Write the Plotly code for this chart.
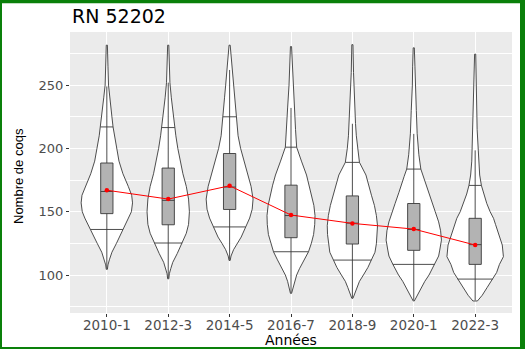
import numpy as np
import plotly.graph_objects as go

# Données
annees = ["2010-1", "2012-3", "2014-5", "2016-7", "2018-9", "2020-1", "2022-3"]
moyennes = [167, 160, 170.5, 147.4, 140.8, 136.3, 123.7]

q1 = [148.5, 139.7, 151.8, 129.5, 124.5, 119.5, 108.4]
mediane = [166, 159, 169.5, 147, 141, 136, 124]
q3 = [188.5, 184.5, 196, 171, 162.5, 156.5, 144.8]
moustache_bas = [105, 97.5, 112, 86, 82, 80, 80]
moustache_haut = [249, 252, 262, 232, 219.5, 211.5, 198.5]

quantile_10 = [136, 125.3, 138, 118.4, 111.8, 108.4, 96.8]
quantile_90 = [217, 216.5, 225, 201, 189, 183.7, 170.8]

# profils de densité (relatifs, max = 1) : niveaux en nombre de coqs
niveaux_2010 = [104.5, 108, 112, 118, 125, 136, 145, 150, 157, 163, 170, 180, 190, 200, 210, 217, 225, 240, 250, 265, 281.6]
densite_2010 = [0.02, 0.04, 0.09, 0.18, 0.34, 0.57, 0.78, 0.87, 0.91, 0.88, 0.76, 0.57, 0.43, 0.35, 0.27, 0.22, 0.18, 0.11, 0.06, 0.04, 0.02]
niveaux_2012 = [97, 101, 105, 110, 117, 125, 133, 140, 150, 160, 170, 180, 190, 200, 210, 217, 225, 240, 252, 265, 281.6]
densite_2012 = [0.02, 0.04, 0.09, 0.16, 0.32, 0.49, 0.64, 0.72, 0.75, 0.72, 0.64, 0.52, 0.42, 0.34, 0.27, 0.23, 0.18, 0.11, 0.06, 0.04, 0.02]
niveaux_2014 = [111.5, 115, 120, 125, 130, 138, 145, 152, 160, 170, 180, 190, 200, 210, 225, 240, 250, 262, 272, 281.6]
densite_2014 = [0.02, 0.05, 0.14, 0.27, 0.41, 0.57, 0.71, 0.80, 0.83, 0.76, 0.64, 0.51, 0.39, 0.30, 0.24, 0.18, 0.14, 0.10, 0.05, 0.02]
niveaux_2016 = [85.5, 90, 95, 100, 105, 112, 118.4, 125, 132, 140, 147, 155, 163, 171, 179, 190, 201, 215, 232, 250, 265, 280.5]
densite_2016 = [0.02, 0.07, 0.12, 0.20, 0.30, 0.48, 0.62, 0.72, 0.80, 0.84, 0.85, 0.81, 0.73, 0.65, 0.55, 0.37, 0.20, 0.16, 0.12, 0.07, 0.04, 0.02]
niveaux_2018 = [81.6, 86, 90, 95, 100, 106, 111.8, 118, 124.7, 132, 139, 147, 155, 162.6, 170, 179, 189, 200, 210, 219.7, 240, 260, 282]
densite_2018 = [0.02, 0.09, 0.16, 0.25, 0.39, 0.55, 0.67, 0.80, 0.85, 0.88, 0.89, 0.85, 0.78, 0.68, 0.60, 0.48, 0.25, 0.18, 0.14, 0.11, 0.07, 0.04, 0.02]
niveaux_2020 = [79.5, 84, 89, 95, 100, 108.4, 115, 119.7, 127.6, 135, 142, 150, 156.6, 165, 172, 178, 183.7, 195, 211.6, 230, 250, 265, 279.5]
densite_2020 = [0.02, 0.12, 0.25, 0.39, 0.54, 0.74, 0.88, 0.92, 0.98, 0.95, 0.88, 0.76, 0.66, 0.53, 0.42, 0.34, 0.25, 0.18, 0.12, 0.09, 0.05, 0.04, 0.02]
niveaux_2022 = [79.5, 84, 90, 96.8, 102, 108.4, 114.5, 123.7, 132, 140, 144.8, 150, 156.6, 164, 170.8, 179, 190, 198.7, 215, 235, 255, 274.5]
densite_2022 = [0.08, 0.25, 0.42, 0.62, 0.76, 0.86, 1.00, 0.96, 0.85, 0.72, 0.65, 0.53, 0.41, 0.30, 0.22, 0.16, 0.12, 0.11, 0.07, 0.05, 0.04, 0.02]

profils = [
    (niveaux_2010, densite_2010),
    (niveaux_2012, densite_2012),
    (niveaux_2014, densite_2014),
    (niveaux_2016, densite_2016),
    (niveaux_2018, densite_2018),
    (niveaux_2020, densite_2020),
    (niveaux_2022, densite_2022),
]

DEMI_LARGEUR = 0.46
GRIS_TRAIT = "#3a3a3a"
X_RANGE = [0.4, 7.6]
Y_RANGE = [70, 292]
positions = list(range(1, len(annees) + 1))

fig = go.Figure()

# violons (axe principal)
for pos, (niv, dens) in zip(positions, profils):
    niv = np.array(niv)
    dens = np.array(dens) * DEMI_LARGEUR
    xs = np.concatenate([pos + dens, (pos - dens)[::-1], [pos + dens[0]]])
    ys = np.concatenate([niv, niv[::-1], [niv[0]]])
    fig.add_trace(go.Scatter(x=xs, y=ys, mode="lines", fill="toself",
                             fillcolor="white",
                             line=dict(color=GRIS_TRAIT, width=0.9),
                             hoverinfo="skip", showlegend=False))

# quantiles dessinés dans les violons
qx, qy = [], []
for pos, (niv, dens), qb, qh in zip(positions, profils, quantile_10, quantile_90):
    for q in (qb, qh):
        w = np.interp(q, niv, dens) * DEMI_LARGEUR
        qx += [pos - w, pos + w, None]
        qy += [q, q, None]
fig.add_trace(go.Scatter(x=qx, y=qy, mode="lines",
                         line=dict(color=GRIS_TRAIT, width=0.9),
                         hoverinfo="skip", showlegend=False))

# boîtes à moustaches (axes superposés, pour passer au-dessus des violons)
fig.add_trace(go.Box(x=positions, q1=q1, median=mediane, q3=q3,
                     lowerfence=moustache_bas, upperfence=moustache_haut,
                     orientation="v", width=0.2, whiskerwidth=0,
                     fillcolor="#b3b3b3",
                     line=dict(color=GRIS_TRAIT, width=0.9),
                     boxpoints=False, showlegend=False,
                     xaxis="x2", yaxis="y2"))

# moyennes
fig.add_trace(go.Scatter(x=positions, y=moyennes, mode="lines+markers",
                         line=dict(color="#ff0000", width=1),
                         marker=dict(color="#ff0000", size=4.5),
                         showlegend=False, xaxis="x2", yaxis="y2"))

L, R, T, B = 70, 13, 32, 36
W, H = 525, 349
pw, ph = W - L - R, H - T - B


def px_x(v):
    return (v - L) / pw


def px_y(v):
    return (H - B - v) / ph


vert = "#0a800a"
for x0, x1, y0, y1 in [(0, W, 0, 3.3), (520, W, 0, H), (0, 2, 0, H), (0, W, 347, H)]:
    fig.add_shape(type="rect", xref="paper", yref="paper",
                  x0=px_x(x0), x1=px_x(x1), y0=px_y(y1), y1=px_y(y0),
                  fillcolor=vert, line=dict(width=0), layer="above")

fig.update_layout(
    width=W, height=H,
    margin=dict(l=L, r=R, t=T, b=B),
    paper_bgcolor="white",
    plot_bgcolor="#ebebeb",
    font=dict(family="Liberation Sans, Arial, sans-serif", color="black"),
    title=dict(text="RN 52202", x=72 / W, xref="container", xanchor="left",
               y=1 - 16 / H, yanchor="middle",
               font=dict(family="DejaVu Sans", size=19, color="black")),
    xaxis=dict(range=X_RANGE, tickvals=positions, ticktext=annees,
               showgrid=True, gridcolor="white", gridwidth=1.1,
               zeroline=False, ticks="outside", ticklen=3, tickwidth=1,
               tickcolor="#333333", ticklabelstandoff=-3,
               tickfont=dict(family="DejaVu Sans", size=13.5, color="#4d4d4d")),
    yaxis=dict(range=Y_RANGE, tickvals=[100, 150, 200, 250],
               showgrid=True, gridcolor="white", gridwidth=1.1,
               minor=dict(tickvals=[75, 125, 175, 225, 275], showgrid=True,
                          gridcolor="white", gridwidth=0.5, ticks=""),
               zeroline=False, ticks="outside", ticklen=3, tickwidth=1,
               tickcolor="#333333",
               tickfont=dict(family="DejaVu Sans", size=13, color="#4d4d4d")),
    xaxis2=dict(range=X_RANGE, overlaying="x", visible=False),
    yaxis2=dict(range=Y_RANGE, overlaying="y", visible=False),
    annotations=[
        dict(text="Années", xref="paper", yref="paper", x=0.5, y=px_y(339.5),
             xanchor="center", yanchor="middle", showarrow=False,
             font=dict(family="DejaVu Sans", size=14, color="black")),
        dict(text="Nombre de coqs", xref="paper", yref="paper",
             x=px_x(18.5), y=px_y(176.5), textangle=-90,
             xanchor="center", yanchor="middle", showarrow=False,
             font=dict(family="Liberation Sans", size=13, color="black")),
    ],
)

# la page n'a pas de marge autour de la figure
fig.write_html("out.html", config={"displayModeBar": False},
               post_script="document.body.style.margin = '0px';")
